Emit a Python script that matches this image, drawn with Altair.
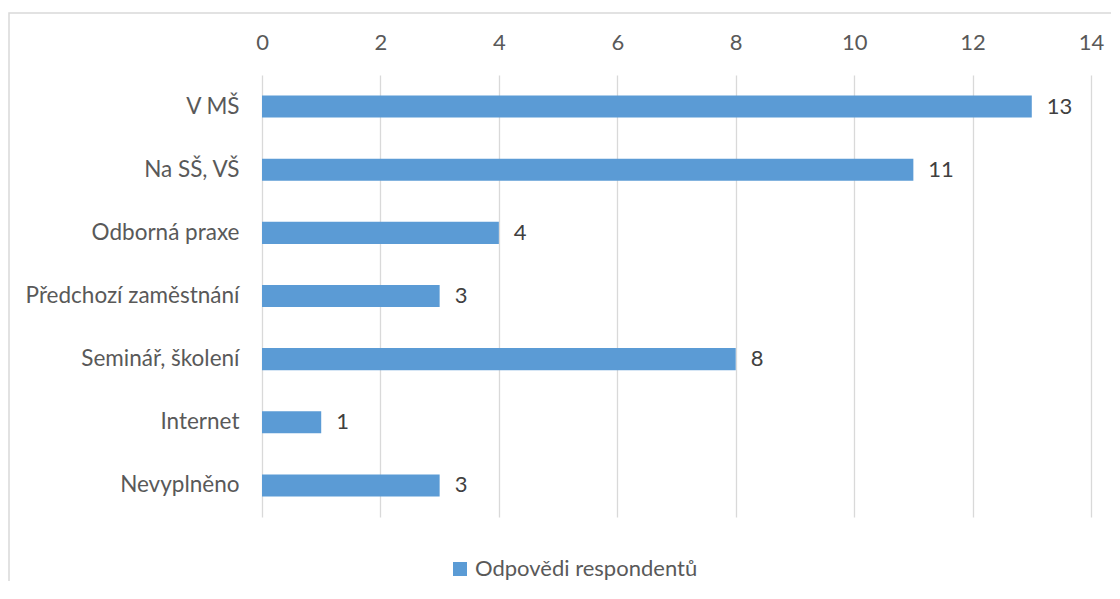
import altair as alt
import pandas as pd

categories = ["V MŠ", "Na SŠ, VŠ", "Odborná praxe", "Předchozí zaměstnání",
              "Seminář, školení", "Internet", "Nevyplněno"]
values = [13, 11, 4, 3, 8, 1, 3]
series_name = "Odpovědi respondentů"
x_ticks = [0, 2, 4, 6, 8, 10, 12, 14]

df = pd.DataFrame({"cat": categories, "val": values, "series": series_name})

FONT = "Lato"
GRAY = "#595959"
BLUE = "#5b9bd5"

x_scale = alt.Scale(domain=[0, 14], nice=False)
y_scale = alt.Scale(domain=categories, paddingInner=0.65, paddingOuter=0.325)

bars = alt.Chart(df).mark_bar(color=BLUE).encode(
    x=alt.X("val:Q", scale=x_scale,
            axis=alt.Axis(orient="top", values=x_ticks, format="d", title=None,
                          domain=False, ticks=False, tickSize=0, labelPadding=21,
                          labelFlush=False,
                          labelFontSize=22, labelColor=GRAY, labelFont=FONT,
                          grid=True, gridColor="#d9d9d9", gridWidth=1.3)),
    y=alt.Y("cat:N", scale=y_scale, sort=categories,
            axis=alt.Axis(title=None, domain=False, ticks=False, tickSize=0,
                          labelPadding=23, labelFontSize=22.5, labelColor=GRAY,
                          labelFont=FONT, labelLimit=400)),
    color=alt.Color("series:N",
                    scale=alt.Scale(domain=[series_name], range=[BLUE]),
                    legend=alt.Legend(title=None, orient="none", legendX=187,
                                      legendY=483, symbolType="square",
                                      symbolSize=196, symbolStrokeWidth=0,
                                      labelFontSize=22, labelColor=GRAY,
                                      labelFont=FONT, labelOffset=4,
                                      labelLimit=500)),
)

labels = alt.Chart(df).mark_text(align="left", baseline="middle", dx=15,
                                 fontSize=22, font=FONT, color="#404040").encode(
    x=alt.X("val:Q", scale=x_scale),
    y=alt.Y("cat:N", scale=y_scale, sort=categories),
    text="val:Q",
)

frame = alt.Chart(alt.Data(values=[{}])).mark_rect(
    fillOpacity=0, stroke="#d9d9d9", strokeWidth=1.5).encode(
    x=alt.value(-253), x2=alt.value(868), y=alt.value(-62), y2=alt.value(560))

chart = alt.layer(frame, bars, labels).properties(
    width=829, height=442,
    autosize=alt.AutoSizeParams(type="none"),
    padding={"left": 254, "top": 67, "right": 20, "bottom": 64},
).configure_view(stroke=None)

chart.save("out.html", embed_options={"renderer": "svg", "actions": False})
